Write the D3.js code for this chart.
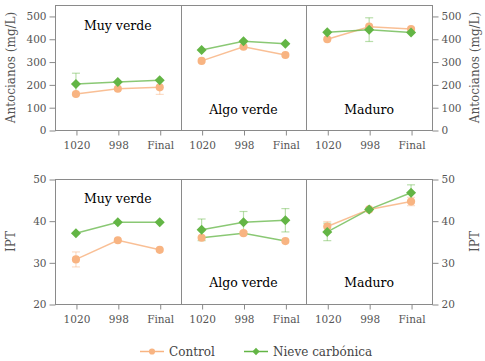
<!DOCTYPE html>
<html><head><meta charset="utf-8">
<script src="https://cdn.jsdelivr.net/npm/d3@7"></script>
<style>body{margin:0;background:#fff}svg{display:block}text{font-family:"DejaVu Serif",serif}</style>
</head><body><svg id="c" width="485" height="361"></svg>
<script>
const stages = ["1020", "998", "Final"];
const panels = ["Muy verde", "Algo verde", "Maduro"];
const seriesNames = ["Control", "Nieve carbónica"];

// Antocianos (mg/L)
const antoControl = [[158, 181, 187], [303, 365, 329], [398, 453, 443]];
const antoControlErr = [[0, 0, 31], [0, 0, 0], [0, 0, 0]];
const antoNieve = [[202, 210, 218], [351, 389, 378], [428, 440, 427]];
const antoNieveErr = [[47, 0, 0], [0, 0, 0], [0, 52, 0]];

// IPT
const iptControl = [[30.7, 35.3, 33.0], [35.9, 37.0, 35.1], [38.6, 42.7, 44.6]];
const iptControlErr = [[1.8, 0, 0], [0, 0.4, 0], [1.2, 0, 1.0]];
const iptNieve = [[37.0, 39.6, 39.6], [37.8, 39.6, 40.1], [37.3, 42.7, 46.7]];
const iptNieveErr = [[0, 0, 0], [2.6, 2.6, 2.8], [2.1, 0, 1.9]];

const antoTicks = [0, 100, 200, 300, 400, 500];
const iptTicks = [20, 30, 40, 50];

const ORANGE = "#f8b482", GREEN = "#63b545";
const svg = d3.select("#c");

function drawRow(cfg) {
  const g = svg.append("g");
  const y = d3.scaleLinear().domain(cfg.domain).range([cfg.bottom, cfg.top]);
  const px = d3.scaleBand().domain(panels).range([55, 432]);
  const x = d3.scalePoint().domain(stages).range([0, px.bandwidth()]).padding(0.5);

  // frame
  g.append("rect").attr("x", 55.5).attr("y", cfg.top + 0.5).attr("width", 377).attr("height", cfg.bottom - cfg.top)
    .attr("fill", "none").attr("stroke", "#8a8a8a").attr("stroke-width", 1);
  panels.slice(1).forEach(p => {
    g.append("line").attr("x1", Math.round(px(p)) + 0.5).attr("x2", Math.round(px(p)) + 0.5)
      .attr("y1", cfg.top).attr("y2", cfg.bottom).attr("stroke", "#8a8a8a");
  });

  // y axes
  const la = g.append("g").attr("transform", `translate(55.5,0.5)`)
    .call(d3.axisLeft(y).tickValues(cfg.ticks).tickSize(6).tickPadding(3).tickSizeOuter(0));
  const ra = g.append("g").attr("transform", `translate(432.5,0.5)`)
    .call(d3.axisRight(y).tickValues(cfg.ticks).tickSize(6).tickPadding(3).tickSizeOuter(0));
  [la, ra].forEach(a => {
    a.select(".domain").remove();
    a.selectAll("line").attr("stroke", "#8a8a8a");
    a.selectAll("text").attr("fill", "#555").style("font-size", "10.5px").style("font-family", "DejaVu Serif");
  });

  // y labels
  g.append("text").attr("transform", `translate(15,${(cfg.top + cfg.bottom) / 2}) rotate(-90)`)
    .attr("text-anchor", "middle").attr("fill", "#555").style("font-size", "12px").text(cfg.label);
  g.append("text").attr("transform", `translate(479,${(cfg.top + cfg.bottom) / 2}) rotate(-90)`)
    .attr("text-anchor", "middle").attr("fill", "#555").style("font-size", "12px").text(cfg.label);

  panels.forEach((p, pi) => {
    const pg = g.append("g").attr("transform", `translate(${px(p)},0)`);
    const xa = pg.append("g").attr("transform", `translate(0.5,${cfg.bottom + 0.5})`)
      .call(d3.axisBottom(x).tickSize(5).tickPadding(6).tickSizeOuter(0));
    xa.select(".domain").remove();
    xa.selectAll("line").attr("stroke", "#8a8a8a");
    xa.selectAll("text").attr("fill", "#555").style("font-size", "10.5px").style("font-family", "DejaVu Serif");

    // panel label
    pg.append("text").attr("x", px.bandwidth() / 2).attr("y", y(cfg.labelPos[pi]))
      .attr("text-anchor", "middle").attr("dominant-baseline", "central")
      .attr("fill", "#000").style("font-size", "12.5px").text(p);

    const series = [
      { vals: cfg.control[pi], err: cfg.controlErr[pi], color: ORANGE, lineColor: cfg.controlLineOverride[pi] ? GREEN : ORANGE, shape: "circle" },
      { vals: cfg.nieve[pi], err: cfg.nieveErr[pi], color: GREEN, lineColor: GREEN, shape: "diamond" }
    ];
    // error bars
    series.forEach(s => {
      s.vals.forEach((v, i) => {
        const e = s.err[i];
        if (!e) return;
        const cx = x(stages[i]);
        const eg = pg.append("g").attr("stroke", s.color).attr("stroke-opacity", 0.45).attr("stroke-width", 1.2);
        eg.append("line").attr("x1", cx).attr("x2", cx).attr("y1", y(v - e)).attr("y2", y(v + e));
        [v - e, v + e].forEach(t => eg.append("line").attr("x1", cx - 4).attr("x2", cx + 4).attr("y1", y(t)).attr("y2", y(t)));
      });
    });
    // lines
    series.forEach(s => {
      pg.append("path").datum(s.vals)
        .attr("d", d3.line().x((d, i) => x(stages[i])).y(d => y(d)))
        .attr("fill", "none").attr("stroke", s.lineColor).attr("stroke-opacity", s.lineColor === ORANGE ? 0.85 : 0.75)
        .attr("stroke-width", 1.5);
    });
    // markers
    series.forEach(s => {
      s.vals.forEach((v, i) => {
        pg.append("path")
          .attr("d", d3.symbol().type(s.shape === "circle" ? d3.symbolCircle : d3.symbolDiamond2).size(s.shape === "circle" ? 52 : 64)())
          .attr("transform", `translate(${x(stages[i])},${y(v)})`)
          .attr("fill", s.color);
      });
    });
  });
}

drawRow({ top: 5, bottom: 130, domain: [0, 548], ticks: antoTicks, label: "Antocianos (mg/L)",
  control: antoControl, controlErr: antoControlErr, nieve: antoNieve, nieveErr: antoNieveErr,
  labelPos: [460, 88, 88], controlLineOverride: [false, false, false] });
drawRow({ top: 179, bottom: 304, domain: [20, 50], ticks: iptTicks, label: "IPT",
  control: iptControl, controlErr: iptControlErr, nieve: iptNieve, nieveErr: iptNieveErr,
  labelPos: [45.4, 25.1, 25.1], controlLineOverride: [false, true, false] });

// legend
const lg = svg.append("g");
const items = [
  { name: seriesNames[0], color: ORANGE, shape: d3.symbolCircle, size: 30, x: 140 },
  { name: seriesNames[1], color: GREEN, shape: d3.symbolDiamond2, size: 34, x: 244 }
];
items.forEach(it => {
  lg.append("line").attr("x1", it.x).attr("x2", it.x + 24).attr("y1", 351.5).attr("y2", 351.5)
    .attr("stroke", it.color).attr("stroke-width", 1.5);
  lg.append("path").attr("d", d3.symbol().type(it.shape).size(it.size)())
    .attr("transform", `translate(${it.x + 12},351.5)`).attr("fill", it.color);
  lg.append("text").attr("x", it.x + 29).attr("y", 351.5).attr("dominant-baseline", "central")
    .attr("fill", "#444").style("font-size", "12px").text(it.name);
});
</script></body></html>
